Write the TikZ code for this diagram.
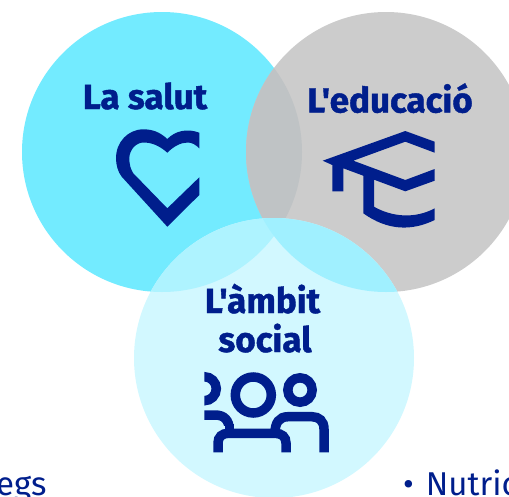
\documentclass[tikz,border=0pt]{standalone}
\usepackage{fontspec}
\newfontfamily\lblfont[BoldFeatures={FakeBold=1.2}]{Fira Sans}
\newfontfamily\footfont{Fira Sans}
\definecolor{navy}{HTML}{001E8C}
\definecolor{cyanA}{HTML}{73EBFF}
\definecolor{greyB}{HTML}{CCCCCC}
\definecolor{paleC}{HTML}{D2F8FF}
\definecolor{ovAB}{HTML}{BFC3C5}
\definecolor{ovAC}{HTML}{AEF3FF}
\definecolor{ovBC}{HTML}{A0F0FF}
\tikzset{
  lbl/.style={text=navy,font=\lblfont\fontsize{35}{39}\selectfont\bfseries,align=center,inner sep=0pt},
  foot/.style={text=navy,font=\footfont\fontsize{33}{36}\selectfont,inner sep=0pt,anchor=base west},
  ring/.style={circle,minimum size=280pt,inner sep=0pt,outer sep=0pt},
  glyph/.style={draw=navy,line width=9.5pt},
}
\begin{document}
\begin{tikzpicture}[x=1pt,y=-1pt]
\useasboundingbox (0,0) rectangle (509,496);
\clip (0,0) rectangle (509,496);
\node[ring,fill=cyanA] (salut) at (162,152) {};
\node[ring,fill=greyB] (edu) at (386,152) {};
\begin{scope}
\clip (162,152) circle[radius=140];
\fill[ovAB] (386,152) circle[radius=140];
\end{scope}
\node[ring,fill=paleC] (social) at (274,358) {};
\begin{scope}
\clip (274,358) circle[radius=140];
\fill[ovAC] (162,152) circle[radius=140];
\fill[ovBC] (386,152) circle[radius=140];
\end{scope}
\node[lbl,anchor=base] (t1) at (145,109) {La salut};
\node[lbl,anchor=base] (t2) at (390,112.5) {L'educació};
\node[lbl,anchor=base] (t3) at (262.5,313) {L'àmbit};
\node[lbl,anchor=base] (t4) at (265,352) {social};
% heart
\fill[navy] (199.3,132.7) .. controls (187,128) and (175,131) .. (167.3,139)
 .. controls (160,132) and (152,129.3) .. (143.5,129.3) .. controls (128,129.3) and (116,142) .. (116,158.3)
 .. controls (116,165) and (118,172) .. (121.7,176.7) -- (167.3,226.7) -- (199.3,195) -- (199.3,177.3) -- (167.3,208.3) -- (133.3,173.3)
 .. controls (130.5,169) and (129.3,164) .. (129.3,158.3) .. controls (129.3,150) and (136,142.5) .. (143.5,142.5)
 .. controls (152,142.5) and (160,146) .. (167.3,152.7) .. controls (174,146) and (181,142.5) .. (188,142.5)
 .. controls (192,142.5) and (196,145) .. (199.3,148.3) -- cycle;
% cap
\fill[navy] (322.7,160.7) -- (405.3,131) -- (434.7,141.7) -- (434.7,152.7) -- (405.3,141.7) -- (353.3,160.7) -- (405.3,180) -- (434.7,169) -- (434.7,180.7) -- (405.3,191.3) -- (343.3,168.3) -- (343.3,191.3) -- (332.3,191.3) -- (332.3,165) -- cycle;
\fill[navy] (363.3,175) -- (374,179) -- (374,206.7) .. controls (392,217) and (415,219) .. (434.7,208.3)
  -- (434.7,220) .. controls (412,231) and (388,231) .. (363.3,213.3) -- cycle;
% people
\draw[glyph] (253.3,395) circle[radius=18];
\draw[glyph] (300,390) circle[radius=12.2];
\begin{scope}
\clip (204.3,360) rectangle (240,425);
\draw[glyph] (204.3,388.7) circle[radius=12];
\draw[glyph] (190,415) -- (215,415) .. controls (224,415) and (229.3,420) .. (229.3,430);
\end{scope}
\draw[glyph] (218,452.3) -- (218,443) .. controls (218,437) and (222,433.3) .. (228.3,433.3) -- (275,433.3) .. controls (282,433.3) and (286,437) .. (286,443) -- (286,452.3);
\draw[glyph] (229.3,424) -- (229.3,433);
\draw[glyph] (275,433) .. controls (275,423) and (279,416.7) .. (288,416.7) -- (312,416.7) .. controls (319,416.7) and (324,421) .. (324,429) -- (324,452.3);
\node[foot] (f1) at (-4,495) {egs};
\node[foot] (f2) at (403,495) {•\kern12pt Nutric};
\end{tikzpicture}
\end{document}
